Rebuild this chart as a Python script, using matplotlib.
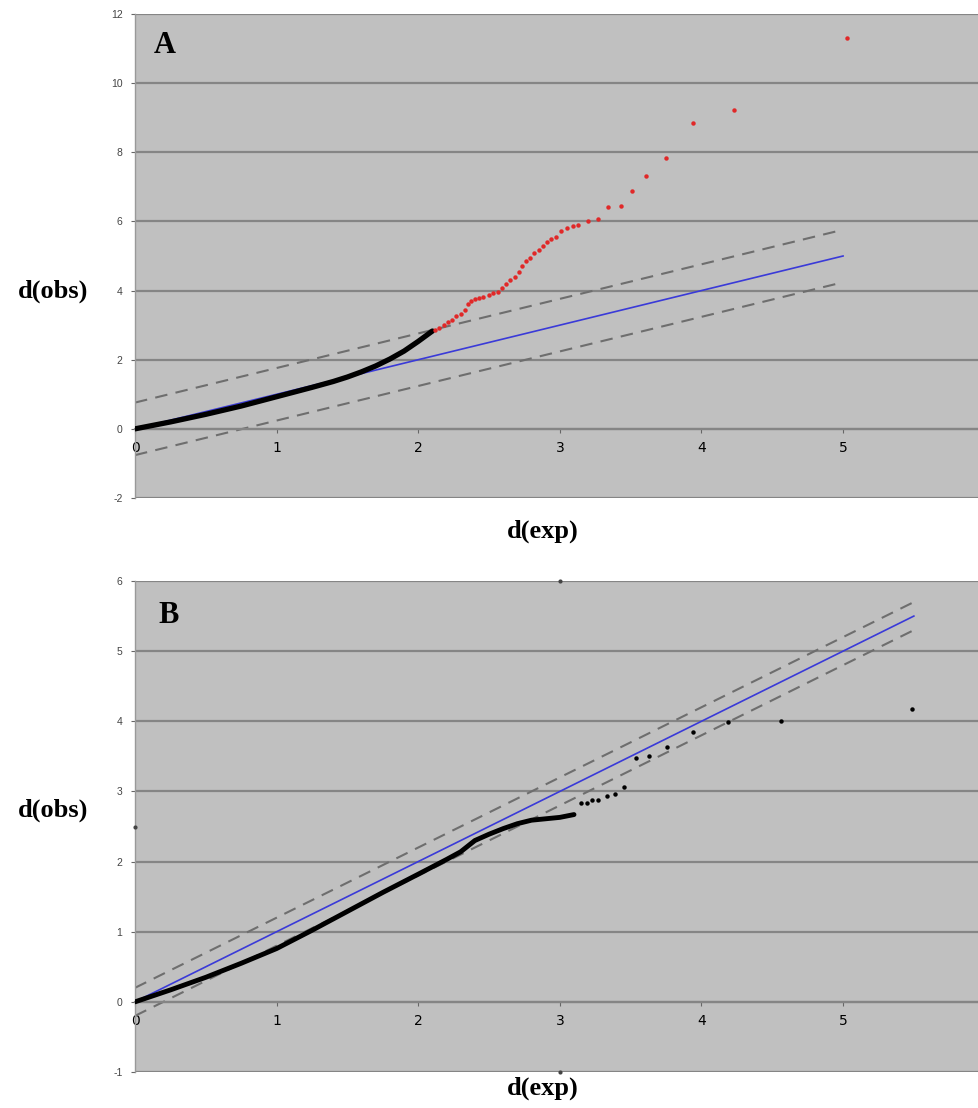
import matplotlib
matplotlib.use("Agg")
import matplotlib.pyplot as plt
import numpy as np

# ---- Panel A data ----
a_curve_x = [0, 0.25, 0.5, 0.75, 1.0, 1.25, 1.4, 1.5, 1.6, 1.7, 1.8, 1.9, 2.0, 2.1]
a_curve_y = [0, 0.2, 0.42, 0.66, 0.93, 1.2, 1.37, 1.5, 1.65, 1.82, 2.02, 2.25, 2.53, 2.83]
a_red_x = [2.12, 2.15, 2.18, 2.21, 2.24, 2.27, 2.30, 2.33, 2.35, 2.37, 2.40, 2.43, 2.46,
           2.50, 2.53, 2.56, 2.59, 2.62, 2.65, 2.68, 2.71, 2.73, 2.76, 2.79, 2.82, 2.85,
           2.88, 2.91, 2.94, 2.97, 3.01, 3.05, 3.09, 3.13, 3.20, 3.27, 3.34, 3.43, 3.51,
           3.61, 3.75, 3.94, 4.23, 5.03]
a_red_y = [2.86, 2.93, 3.00, 3.08, 3.15, 3.25, 3.33, 3.45, 3.60, 3.70, 3.75, 3.78, 3.82,
           3.88, 3.92, 3.96, 4.08, 4.20, 4.30, 4.40, 4.55, 4.72, 4.85, 4.93, 5.10, 5.18,
           5.30, 5.40, 5.48, 5.55, 5.72, 5.81, 5.86, 5.90, 6.00, 6.08, 6.42, 6.46, 6.88,
           7.30, 7.84, 8.86, 9.22, 11.30]
a_ref_x = [0, 5]
a_band = 0.76
a_yticks = [-2, 0, 2, 4, 6, 8, 10, 12]

# ---- Panel B data ----
b_curve_x = [0, 0.25, 0.5, 0.75, 1.0, 1.25, 1.5, 1.75, 2.0, 2.2, 2.3, 2.35, 2.4, 2.5,
             2.6, 2.7, 2.8, 2.9, 3.0, 3.1]
b_curve_y = [0, 0.17, 0.35, 0.55, 0.76, 1.02, 1.29, 1.56, 1.82, 2.03, 2.14, 2.22, 2.30,
             2.39, 2.47, 2.54, 2.59, 2.61, 2.63, 2.67]
b_pts_x = [3.15, 3.19, 3.23, 3.27, 3.33, 3.39, 3.45, 3.54, 3.63, 3.76, 3.94, 4.19, 4.56, 5.49]
b_pts_y = [2.84, 2.84, 2.88, 2.88, 2.94, 2.97, 3.07, 3.48, 3.50, 3.64, 3.85, 3.99, 4.01, 4.17]
b_edge_x = [3, 3, 0]
b_edge_y = [6, -1, 2.5]
b_ref_x = [0, 5.5]
b_band = 0.2
b_yticks = [-1, 0, 1, 2, 3, 4, 5, 6]

xticks = [0, 1, 2, 3, 4, 5]

W, H = 979, 1108
fig = plt.figure(figsize=(W / 100, H / 100), dpi=100)

BG = "#c0c0c0"
GRID = "#858585"
TICKC = "#444444"
serif = ["Liberation Serif", "DejaVu Serif"]


def px_axes(left, top, right, bottom):
    return fig.add_axes([left / W, 1 - bottom / H, (right - left) / W, (bottom - top) / H])


def style(ax, ylim, yticks):
    ax.set_facecolor(BG)
    ax.set_xlim(0, 5.96)
    ax.set_ylim(*ylim)
    ax.set_yticks(yticks)
    ax.set_yticklabels([str(t) for t in yticks], fontsize=7.5, color=TICKC,
                       family="Liberation Sans")
    ax.set_xticks(xticks)
    ax.set_xticklabels([str(t) for t in xticks], fontsize=7.5, color=TICKC,
                       family="Liberation Sans")
    for s in ["top", "right"]:
        ax.spines[s].set_visible(False)
    ax.spines["bottom"].set_position(("data", 0))
    ax.spines["bottom"].set_color(GRID)
    ax.spines["bottom"].set_linewidth(1.6)
    ax.spines["left"].set_color("#999999")
    ax.spines["left"].set_linewidth(1.0)
    ax.tick_params(axis="x", direction="out", length=3, color="#666666", pad=6)
    ax.tick_params(axis="y", direction="out", length=3, color="#666666", pad=6)
    ax.yaxis.grid(True, color=GRID, linewidth=1.6)
    ax.set_axisbelow(True)


# ---- Panel A ----
axA = px_axes(135, 14, 979, 498)
style(axA, (-2, 12), a_yticks)
rx = np.array(a_ref_x, dtype=float)
axA.plot(rx, rx + a_band, color="#6e6e6e", lw=1.5, dashes=(6, 4), zorder=2)
axA.plot(rx, rx - a_band, color="#6e6e6e", lw=1.5, dashes=(6, 4), zorder=2)
axA.plot(rx, rx, color="#3a3ad8", lw=1.2, zorder=3)
axA.plot(a_curve_x, a_curve_y, color="black", lw=3.8, solid_capstyle="round",
         solid_joinstyle="round", zorder=4)
axA.plot(a_red_x, a_red_y, "o", color="#e02828", ms=3.2, mec="none", zorder=5)
axA.text(0.022, 0.965, "A", transform=axA.transAxes, ha="left", va="top",
         fontsize=22, fontweight="bold", family=serif)

# ---- Panel B ----
axB = px_axes(135, 581, 979, 1072)
style(axB, (-1, 6), b_yticks)
rx = np.array(b_ref_x, dtype=float)
axB.plot(rx, rx + b_band, color="#6e6e6e", lw=1.5, dashes=(6, 4), zorder=2)
axB.plot(rx, rx - b_band, color="#6e6e6e", lw=1.5, dashes=(6, 4), zorder=2)
axB.plot(rx, rx, color="#3a3ad8", lw=1.2, zorder=3)
axB.plot(b_curve_x, b_curve_y, color="black", lw=3.5, solid_capstyle="round",
         solid_joinstyle="round", zorder=4)
axB.plot(b_pts_x, b_pts_y, "o", color="black", ms=3.2, mec="none", zorder=5)
axB.plot(b_edge_x, b_edge_y, "o", color="#444444", ms=3, mec="none", zorder=5,
         clip_on=False)
axB.text(0.028, 0.96, "B", transform=axB.transAxes, ha="left", va="top",
         fontsize=22, fontweight="bold", family=serif)

# ---- Axis titles ----
def ftext(x, y, s, **kw):
    fig.text(x / W, 1 - y / H, s, fontsize=19, fontweight="bold", family=serif,
             ha="center", va="center", **kw)

ftext(543, 531, "d(exp)")
ftext(53, 291, "d(obs)")
ftext(543, 1088, "d(exp)")
ftext(53, 810, "d(obs)")

fig.savefig("out.png", dpi=100, facecolor="white")
